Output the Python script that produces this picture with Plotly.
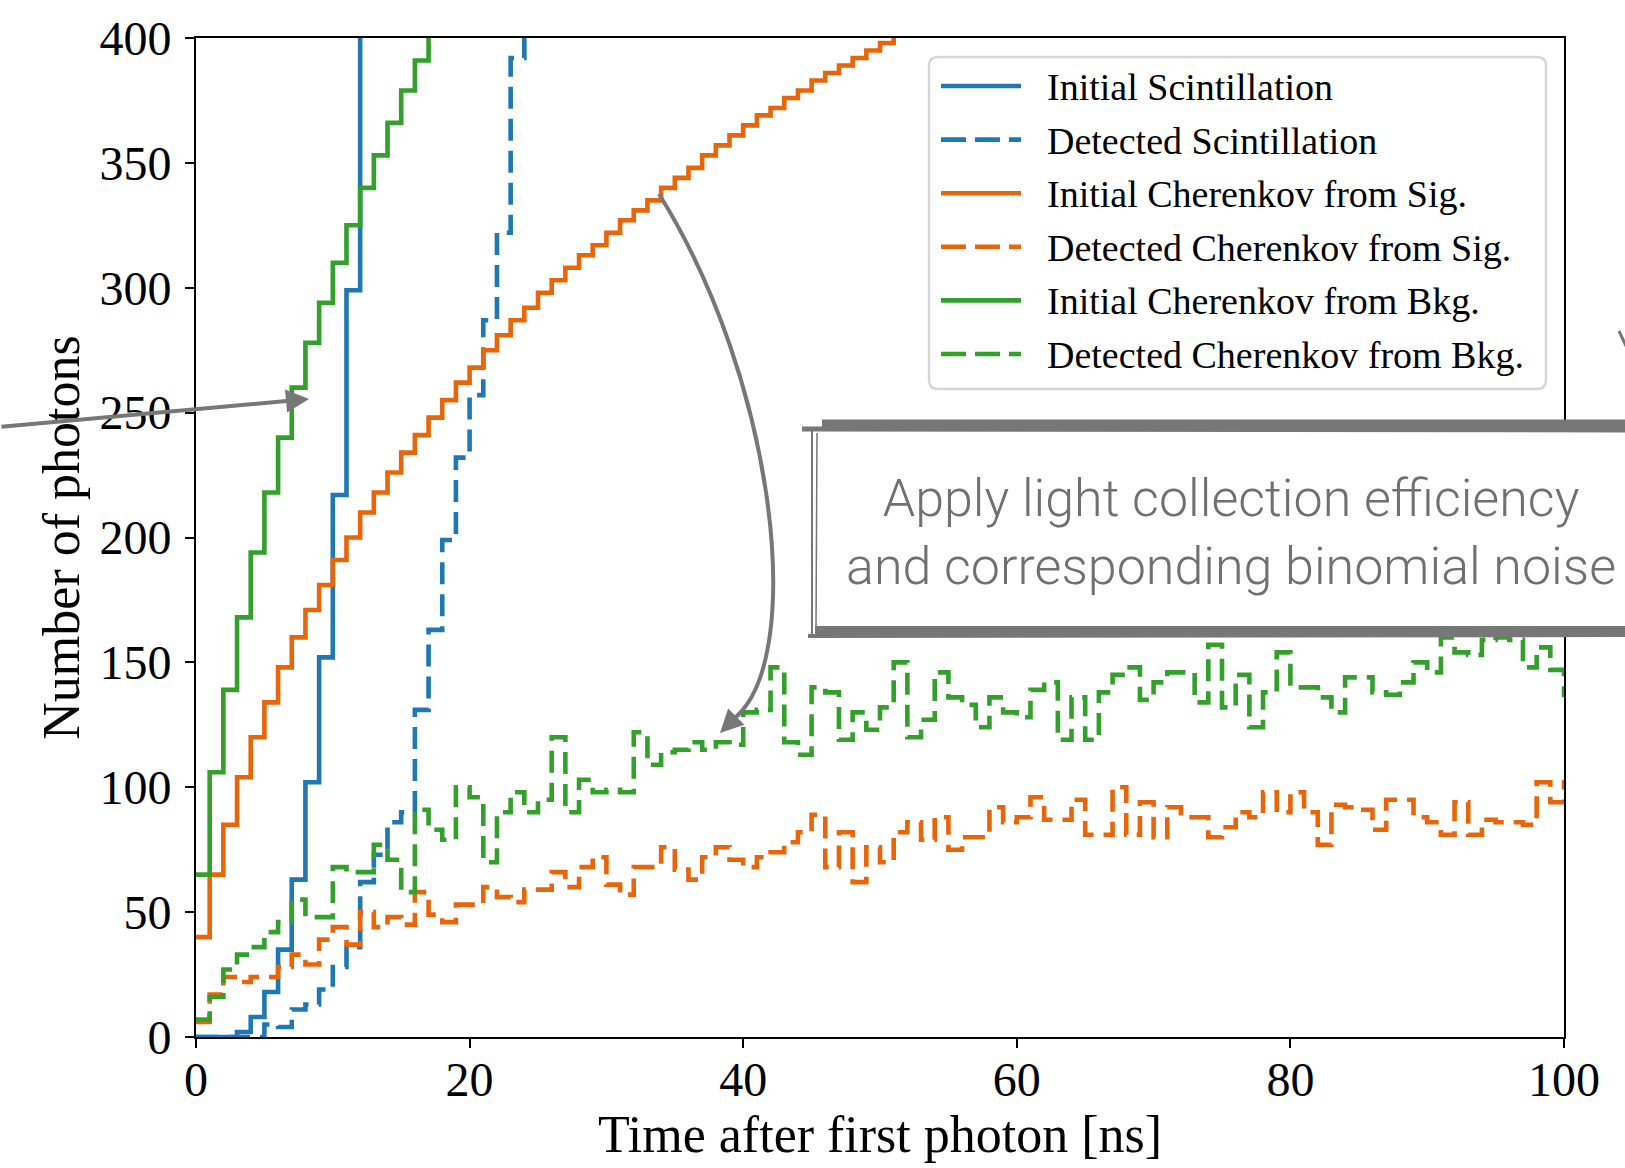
import plotly.graph_objects as go

# ---------------- data (photons per 1 ns bin, bins start at 0 ns) ----------------
bin_width = 1.0

# Initial scintillation (goes off the top of the axes after 12 ns)
scint_initial = [0, 0, 0, 2, 8, 18, 35, 63, 102, 152, 217, 299, 470, 620, 760]
# Detected scintillation (off the top after 24 ns)
scint_detected = [0, 0, 0, 0, 0, 5, 4, 11, 13, 19, 28, 36, 62, 73, 86, 90, 131, 163, 199, 232,
                  257, 287, 322, 392, 470, 540, 600]
# Initial Cherenkov from signal
cher_sig_initial = [40, 65, 85, 104, 120, 134, 148, 160, 171, 181, 191, 200, 210, 218, 226, 234,
                    241, 248, 255, 262, 268, 275, 281, 287, 292, 298, 303, 308, 313, 317, 322,
                    327, 331, 335, 340, 344, 348, 353, 357, 361, 365, 369, 372, 376, 379, 383,
                    386, 389, 392, 395, 398, 401, 404, 407, 410]
# Detected Cherenkov from signal
cher_sig_detected = [6, 17, 24, 22, 24, 24, 28, 33, 29, 39,
                     44, 37, 50, 44, 48, 45, 58, 49, 46, 53,
                     53, 60, 56, 54, 59, 59, 66, 60, 68, 72,
                     61, 57, 68, 68, 76, 67, 63, 72, 76, 71,
                     68, 72, 74, 78, 82, 89, 68, 82, 62, 76,
                     70, 82, 86, 79, 88, 75, 80, 80, 92, 86,
                     88, 96, 87, 87, 95, 81, 81, 100, 81, 94,
                     80, 92, 88, 88, 80, 84, 90, 88, 98, 90,
                     98, 90, 77, 93, 92, 91, 83, 95, 95, 88,
                     86, 81, 94, 81, 87, 86, 86, 85, 102, 94,
                     102]
# Initial Cherenkov from background (off the top after 17 ns)
cher_bkg_initial = [65, 106, 139, 168, 194, 218, 240, 260, 278, 294, 310, 325, 340, 353, 366,
                    379, 391, 410, 425, 440]
# Detected Cherenkov from background
cher_bkg_detected = [7, 16, 27, 33, 36, 42, 46, 55, 48, 48,
                     68, 66, 66, 77, 71, 58, 91, 83, 79, 100,
                     96, 70, 90, 98, 90, 95, 120, 90, 103, 98,
                     99, 98, 122, 109, 114, 115, 118, 115, 118, 117,
                     130, 131, 148, 118, 113, 140, 138, 119, 130, 123,
                     132, 150, 120, 127, 146, 136, 133, 124, 136, 130,
                     128, 139, 142, 119, 136, 119, 138, 145, 148, 135,
                     142, 146, 146, 134, 157, 132, 145, 124, 138, 154,
                     140, 140, 136, 130, 144, 144, 138, 137, 142, 150,
                     146, 160, 154, 153, 159, 160, 159, 148, 156, 147,
                     137]

series_names = ["Initial Scintillation", "Detected Scintillation",
                "Initial Cherenkov from Sig.", "Detected Cherenkov from Sig.",
                "Initial Cherenkov from Bkg.", "Detected Cherenkov from Bkg."]
series_values = [scint_initial, scint_detected, cher_sig_initial, cher_sig_detected,
                 cher_bkg_initial, cher_bkg_detected]

x_ticks = [0, 20, 40, 60, 80, 100]
y_ticks = [0, 50, 100, 150, 200, 250, 300, 350, 400]

annotation_text = "Apply light collection efficiency<br>and corresponding binomial noise"

# ---------------- styles ----------------
BLUE, ORANGE, GREEN = "#1f77b4", "#e8650a", "#33a02c"
colors = [BLUE, BLUE, ORANGE, ORANGE, GREEN, GREEN]
dashes = ["solid", "22px,10px"] * 3
GRAY = "#777777"
SERIF = "Liberation Serif, DejaVu Serif, serif"

W, H = 1625, 1168
L, R, T, B = 196, 1564, 38, 1037  # plot area in pixels


def pxx(x):
    return (x - L) / (R - L)


def pxy(y):
    return (B - y) / (B - T)


fig = go.Figure()
for name, vals, col, dsh in zip(series_names, series_values, colors, dashes):
    xs = [i * bin_width for i in range(len(vals) + 1)]
    ys = list(vals) + [vals[-1]]
    fig.add_trace(go.Scatter(x=xs, y=ys, mode="lines", name=name, line_shape="hv",
                             line=dict(color=col, width=4.6, dash=dsh), showlegend=False,
                             cliponaxis=True))

shapes = []
annotations = []

# ---------------- manual legend ----------------
lx0, lx1, ly0, ly1, rad = 929, 1546, 57, 389, 9
legend_path = (f"M {pxx(lx0+rad)} {pxy(ly0)} L {pxx(lx1-rad)} {pxy(ly0)} "
               f"Q {pxx(lx1)} {pxy(ly0)} {pxx(lx1)} {pxy(ly0+rad)} "
               f"L {pxx(lx1)} {pxy(ly1-rad)} Q {pxx(lx1)} {pxy(ly1)} {pxx(lx1-rad)} {pxy(ly1)} "
               f"L {pxx(lx0+rad)} {pxy(ly1)} Q {pxx(lx0)} {pxy(ly1)} {pxx(lx0)} {pxy(ly1-rad)} "
               f"L {pxx(lx0)} {pxy(ly0+rad)} Q {pxx(lx0)} {pxy(ly0)} {pxx(lx0+rad)} {pxy(ly0)} Z")
shapes.append(dict(type="path", xref="paper", yref="paper", path=legend_path,
                   fillcolor="rgba(255,255,255,0.85)", line=dict(color="#d6d6d6", width=2.5),
                   layer="above"))
row_y0, row_dy = 86, 53.6
for i, (name, col, dsh) in enumerate(zip(series_names, colors, dashes)):
    yy = row_y0 + i * row_dy
    shapes.append(dict(type="line", xref="paper", yref="paper",
                       x0=pxx(941), x1=pxx(1021), y0=pxy(yy), y1=pxy(yy),
                       line=dict(color=col, width=4.6, dash="25px,9px" if dsh != "solid" else "solid"),
                       layer="above"))
    annotations.append(dict(xref="paper", yref="paper", x=pxx(1045), y=pxy(yy + 1),
                            xanchor="left", yanchor="middle", text=name, showarrow=False,
                            font=dict(family=SERIF, size=38, color="black")))

# ---------------- sketchy box with text ----------------
bx0, bx1, by0, by1 = 811, 1660, 425, 636
shapes.append(dict(type="rect", xref="paper", yref="paper", x0=pxx(bx0), x1=pxx(bx1),
                   y0=pxy(by1), y1=pxy(by0), fillcolor="white", line=dict(width=0), layer="above"))
for (x0, y0, x1, y1, w) in [(822, 424, 1660, 424, 9), (802, 429, 1660, 430, 5),
                            (815, 630, 1660, 630, 8), (808, 636, 1660, 635, 4),
                            (812, 428, 812, 636, 2), (817, 433, 816, 630, 1.5)]:
    shapes.append(dict(type="line", xref="paper", yref="paper", x0=pxx(x0), x1=pxx(x1),
                       y0=pxy(y0), y1=pxy(y1), line=dict(color=GRAY, width=w), layer="above"))
annotations.append(dict(xref="paper", yref="paper", x=pxx(1231), y=pxy(532),
                        xanchor="center", yanchor="middle", text=annotation_text,
                        showarrow=False, align="center",
                        font=dict(family="Roboto, Lato, sans-serif", size=52, color="#707070",
                                  weight=300)))

# ---------------- arrows ----------------
annotations.append(dict(xref="paper", yref="paper", x=pxx(309), y=pxy(399),
                        ax=-309, ay=28, axref="pixel", ayref="pixel", text="",
                        showarrow=True, arrowhead=2, arrowsize=1.15, arrowwidth=4,
                        arrowcolor=GRAY))
curve = (f"M {pxx(659)} {pxy(194)} C {pxx(775)} {pxy(380)} {pxx(805)} {pxy(650)} "
         f"{pxx(738)} {pxy(715)}")
shapes.append(dict(type="path", xref="paper", yref="paper", path=curve,
                   line=dict(color=GRAY, width=4), layer="above"))
annotations.append(dict(xref="paper", yref="paper", x=pxx(720), y=pxy(733),
                        ax=20, ay=-20, axref="pixel", ayref="pixel", text="",
                        showarrow=True, arrowhead=2, arrowsize=1.15, arrowwidth=4,
                        arrowcolor=GRAY))
shapes.append(dict(type="line", xref="paper", yref="paper", x0=pxx(1619), y0=pxy(331),
                   x1=pxx(1626), y1=pxy(346), line=dict(color=GRAY, width=3), layer="above"))

axis_common = dict(showline=True, linecolor="black", linewidth=2, mirror=True,
                   ticks="outside", ticklen=9, tickwidth=2, tickcolor="black",
                   showgrid=False, zeroline=False,
                   tickfont=dict(family=SERIF, size=48, color="black"))

fig.update_layout(
    width=W, height=H,
    margin=dict(l=L, r=W - R, t=T, b=H - B, autoexpand=False),
    paper_bgcolor="white", plot_bgcolor="white",
    showlegend=False,
    xaxis=dict(range=[0, 100], tickvals=x_ticks, ticktext=[str(v) for v in x_ticks],
               ticklabelstandoff=-10,
               title=dict(text="Time after first photon [ns]", standoff=8,
                          font=dict(family=SERIF, size=52, color="black")),
               **axis_common),
    yaxis=dict(range=[0, 400], tickvals=y_ticks, ticktext=[str(v) for v in y_ticks],
               ticklabelstandoff=4,
               title=dict(text="Number of photons", standoff=3,
                          font=dict(family=SERIF, size=52, color="black")),
               **axis_common),
    shapes=shapes,
    annotations=annotations,
)

fig.write_html("out.html")
